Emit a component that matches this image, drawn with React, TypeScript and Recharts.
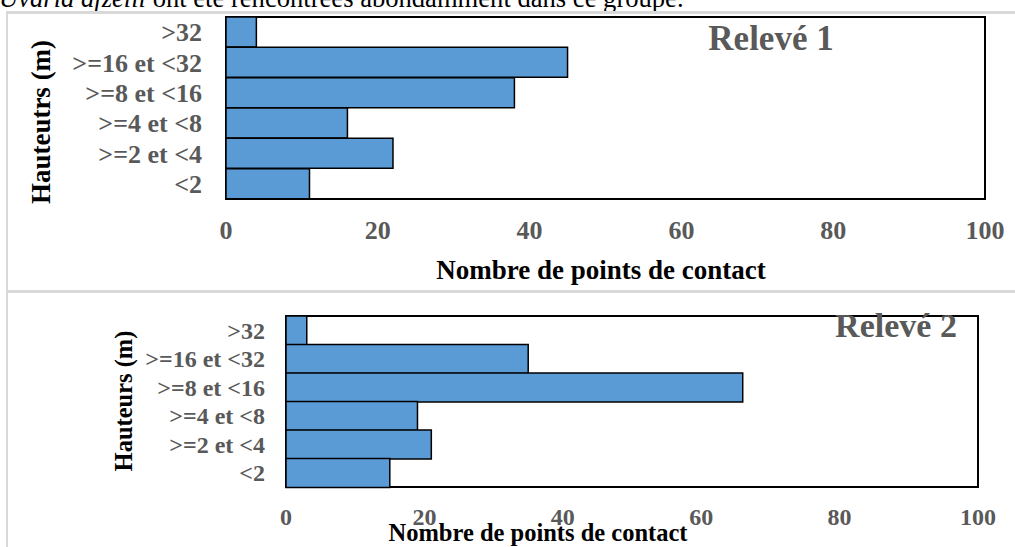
import { Bar, BarChart, ReferenceArea, XAxis, YAxis } from 'recharts';

// Deux relevés : nombre de points de contact par classe de hauteur (barres horizontales).

const CATEGORIES = ['>32', '>=16 et <32', '>=8 et <16', '>=4 et <8', '>=2 et <4', '<2'];
const RELEVE_1 = [4, 45, 38, 16, 22, 11];
const RELEVE_2 = [3, 35, 66, 19, 21, 15];
const X_TICKS = [0, 20, 40, 60, 80, 100];

const SERIF = "'Liberation Serif', 'Times New Roman', serif";
const BAR_FILL = '#5b9bd5';
const TICK_COLOR = '#595959';
const BORDER = '#d9d9d9';

interface Row {
  cat: string;
  value: number;
}

const toRows = (values: number[]): Row[] => CATEGORIES.map((cat, i) => ({ cat, value: values[i] }));

function Panel({
  values,
  width,
  height,
  top,
  margin,
  yWidth,
  xHeight,
  fontSize,
  xTickMargin,
  yTickMargin,
}: {
  values: number[];
  width: number;
  height: number;
  top: number;
  margin: { top: number; right: number; bottom: number; left: number };
  yWidth: number;
  xHeight: number;
  fontSize: number;
  xTickMargin: number;
  yTickMargin: number;
}) {
  const tick = { fill: TICK_COLOR, fontSize, fontWeight: 700, fontFamily: SERIF };
  return (
    <div style={{ position: 'absolute', left: 0, top }}>
      <BarChart width={width} height={height} data={toRows(values)} layout="vertical" margin={margin} barCategoryGap={0}>
        <XAxis
          type="number"
          domain={[0, 100]}
          ticks={X_TICKS}
          height={xHeight}
          axisLine={false}
          tickLine={false}
          tickSize={0}
          tickMargin={xTickMargin}
          tick={tick}
        />
        <YAxis
          type="category"
          dataKey="cat"
          width={yWidth}
          axisLine={false}
          tickLine={false}
          tickSize={0}
          tickMargin={yTickMargin}
          tick={tick}
          interval={0}
        />
        <Bar dataKey="value" fill={BAR_FILL} stroke="#000" strokeWidth={1.5} isAnimationActive={false} />
        <ReferenceArea x1={0} x2={100} fill="none" fillOpacity={0} stroke="#000" strokeWidth={2} ifOverflow="visible" />
      </BarChart>
    </div>
  );
}

const abs = (style: React.CSSProperties): React.CSSProperties => ({
  position: 'absolute',
  whiteSpace: 'nowrap',
  lineHeight: 1,
  fontFamily: SERIF,
  ...style,
});

export default function App() {
  return (
    <div
      style={{
        position: 'absolute',
        left: 0,
        top: 0,
        width: 1015,
        height: 547,
        overflow: 'hidden',
        background: '#fff',
        fontFamily: SERIF,
      }}
    >
      <div style={abs({ left: -1, top: -15, fontSize: 26.6, color: '#000' })}>
        <i>Uvaria afzelii</i> ont été rencontrées abondamment dans ce groupe.
      </div>

      <Panel
        values={RELEVE_1}
        width={1015}
        height={290}
        top={0}
        margin={{ top: 17, right: 30, bottom: 0, left: 0 }}
        yWidth={226}
        xHeight={91}
        fontSize={26}
        xTickMargin={22}
        yTickMargin={24}
      />
      <Panel
        values={RELEVE_2}
        width={1015}
        height={257}
        top={290}
        margin={{ top: 26, right: 37, bottom: 0, left: 0 }}
        yWidth={286}
        xHeight={60}
        fontSize={24}
        xTickMargin={21}
        yTickMargin={21}
      />

      <div style={abs({ left: 771, top: 21, transform: 'translateX(-50%)', fontSize: 35, fontWeight: 700, color: TICK_COLOR })}>
        Relevé 1
      </div>
      <div style={abs({ left: 896, top: 309, transform: 'translateX(-50%)', fontSize: 34, fontWeight: 700, color: TICK_COLOR })}>
        Relevé 2
      </div>

      <div style={abs({ left: 601, top: 257, transform: 'translateX(-50%)', fontSize: 27, fontWeight: 700, color: '#000' })}>
        Nombre de points de contact
      </div>
      <div style={abs({ left: 538, top: 521, transform: 'translateX(-50%)', fontSize: 24.5, fontWeight: 700, color: '#000' })}>
        Nombre de points de contact
      </div>

      <div
        style={abs({ left: 41, top: 122, transform: 'translate(-50%, -50%) rotate(-90deg)', fontSize: 27, fontWeight: 700, color: '#000' })}
      >
        Hauteutrs (m)
      </div>
      <div
        style={abs({ left: 124, top: 401, transform: 'translate(-50%, -50%) rotate(-90deg)', fontSize: 24.5, fontWeight: 700, color: '#000' })}
      >
        Hauteurs (m)
      </div>

      <div style={{ position: 'absolute', left: 6, top: 11, width: 1015, height: 3, background: BORDER }} />
      <div style={{ position: 'absolute', left: 6, top: 290, width: 1015, height: 3, background: BORDER }} />
      <div style={{ position: 'absolute', left: 6, top: 11, width: 2, height: 540, background: BORDER }} />
    </div>
  );
}
